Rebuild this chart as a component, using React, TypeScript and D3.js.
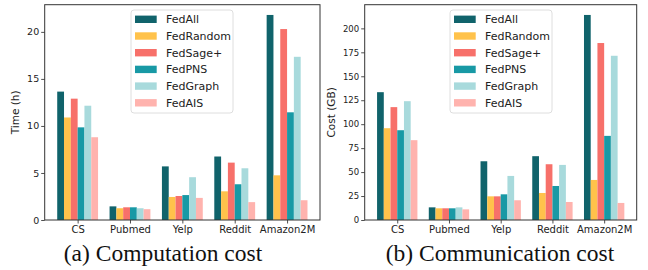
import React, { useEffect, useRef } from "react";
import * as d3 from "d3";

const datasets = ["CS", "Pubmed", "Yelp", "Reddit", "Amazon2M"];
const methods = ["FedAll", "FedRandom", "FedSage+", "FedPNS", "FedGraph", "FedAIS"];
const colors = ["#10636b", "#ffc24b", "#f7706a", "#1899a5", "#a8dadc", "#ffb3ae"];

// time (h), one row per method, columns follow datasets
const timeFedAll = [13.65, 1.45, 5.7, 6.75, 21.8];
const timeFedRandom = [10.9, 1.25, 2.45, 3.05, 4.75];
const timeFedSage = [12.9, 1.35, 2.55, 6.1, 20.3];
const timeFedPNS = [9.85, 1.35, 2.65, 3.8, 11.45];
const timeFedGraph = [12.15, 1.25, 4.55, 5.5, 17.35];
const timeFedAIS = [8.8, 1.15, 2.35, 1.9, 2.1];

// communication cost (GB)
const costFedAll = [133.4, 13.2, 61.3, 66.6, 214];
const costFedRandom = [95.8, 12.2, 24.7, 28.2, 41.8];
const costFedSage = [117.8, 12.2, 24.7, 58.2, 184.7];
const costFedPNS = [93.7, 12.2, 26.8, 35.5, 87.8];
const costFedGraph = [124, 13.2, 46, 57.5, 171.4];
const costFedAIS = [83.3, 11.1, 20.6, 18.8, 17.8];

const timeTicks = [0, 5, 10, 15, 20];
const costTicks = [0, 25, 50, 75, 100, 125, 150, 175, 200];

const App = () => {
  const svgRef = useRef(null);

  useEffect(() => {
    const svg = d3.select(svgRef.current);
    svg.selectAll("*").remove();

    const drawPanel = (opts) => {
      const { left, right, top, bottom, series, ticks, label, labelX, caption, captionX, legendX, tickFont } = opts;
      const g = svg.append("g");
      const barW = 0.13;
      const x = d3.scaleLinear().domain([-0.629, 4.629]).range([left, right]);
      const yMax = d3.max(series.flat()) * 1.05;
      const y = d3.scaleLinear().domain([0, yMax]).range([bottom, top]);

      // bars
      series.forEach((vals, m) => {
        g.selectAll(null)
          .data(vals)
          .enter()
          .append("rect")
          .attr("x", (d, i) => x(i + (m - 3) * barW))
          .attr("width", x(barW) - x(0))
          .attr("y", (d) => y(d))
          .attr("height", (d) => bottom - y(d))
          .attr("fill", colors[m]);
      });

      // axes
      const yAxis = d3.axisLeft(y).tickValues(ticks).tickSize(3.5).tickPadding(2);
      const ya = g.append("g").attr("transform", `translate(${left},0)`).call(yAxis);
      const xAxis = d3
        .axisBottom(x)
        .tickValues(d3.range(datasets.length))
        .tickFormat((i) => datasets[i])
        .tickSize(3.5)
        .tickPadding(2);
      const xa = g.append("g").attr("transform", `translate(0,${bottom})`).call(xAxis);
      [ya, xa].forEach((a) => {
        a.select(".domain").remove();
        a.selectAll("line").attr("stroke", "#222").attr("stroke-width", 0.8);
        a.selectAll("text")
          .attr("font-family", "DejaVu Sans")
          .attr("font-size", tickFont)
          .attr("fill", "#222");
      });
      xa.selectAll("text").attr("font-size", 10);

      // frame
      g.append("rect")
        .attr("x", left)
        .attr("y", top)
        .attr("width", right - left)
        .attr("height", bottom - top)
        .attr("fill", "none")
        .attr("stroke", "#333")
        .attr("stroke-width", 1);

      g.append("text")
        .attr("transform", `translate(${labelX},${(top + bottom) / 2}) rotate(-90)`)
        .attr("text-anchor", "middle")
        .attr("font-family", "DejaVu Sans")
        .attr("font-size", 10.5)
        .attr("fill", "#222")
        .text(label);

      // legend
      const lg = g.append("g").attr("transform", `translate(${legendX},10)`);
      lg.append("rect")
        .attr("width", 102)
        .attr("height", 103)
        .attr("rx", 3)
        .attr("fill", "white")
        .attr("fill-opacity", 0.8)
        .attr("stroke", "#d6d6d6")
        .attr("stroke-width", 0.8);
      methods.forEach((name, m) => {
        const cy = 9.3 + m * 16.7;
        lg.append("rect")
          .attr("x", 4)
          .attr("y", cy - 3.7)
          .attr("width", 21.7)
          .attr("height", 7.4)
          .attr("fill", colors[m]);
        lg.append("text")
          .attr("x", 35)
          .attr("y", cy)
          .attr("dy", "0.36em")
          .attr("font-family", "DejaVu Sans")
          .attr("font-size", 11)
          .attr("fill", "#222")
          .text(name);
      });

      svg.append("text")
        .attr("x", captionX)
        .attr("y", 261)
        .attr("text-anchor", "middle")
        .attr("font-family", "Liberation Serif")
        .attr("font-size", 23.5)
        .attr("fill", "#111")
        .text(caption);
    };

    drawPanel({
      left: 44.7,
      right: 320,
      top: 4.7,
      bottom: 220,
      series: [timeFedAll, timeFedRandom, timeFedSage, timeFedPNS, timeFedGraph, timeFedAIS],
      ticks: timeTicks,
      label: "Time (h)",
      labelX: 19,
      caption: "(a) Computation cost",
      captionX: 163,
      legendX: 131,
      tickFont: 9.5,
    });

    drawPanel({
      left: 364.7,
      right: 636.7,
      top: 4.7,
      bottom: 220,
      series: [costFedAll, costFedRandom, costFedSage, costFedPNS, costFedGraph, costFedAIS],
      ticks: costTicks,
      label: "Cost (GB)",
      labelX: 335,
      caption: "(b) Communication cost",
      captionX: 500,
      legendX: 450,
      tickFont: 8.5,
    });
  }, []);

  return (
    <svg
      ref={svgRef}
      width="648"
      height="270"
      style={{ position: "absolute", left: 0, top: 0, background: "white" }}
    ></svg>
  );
};

export default App;
